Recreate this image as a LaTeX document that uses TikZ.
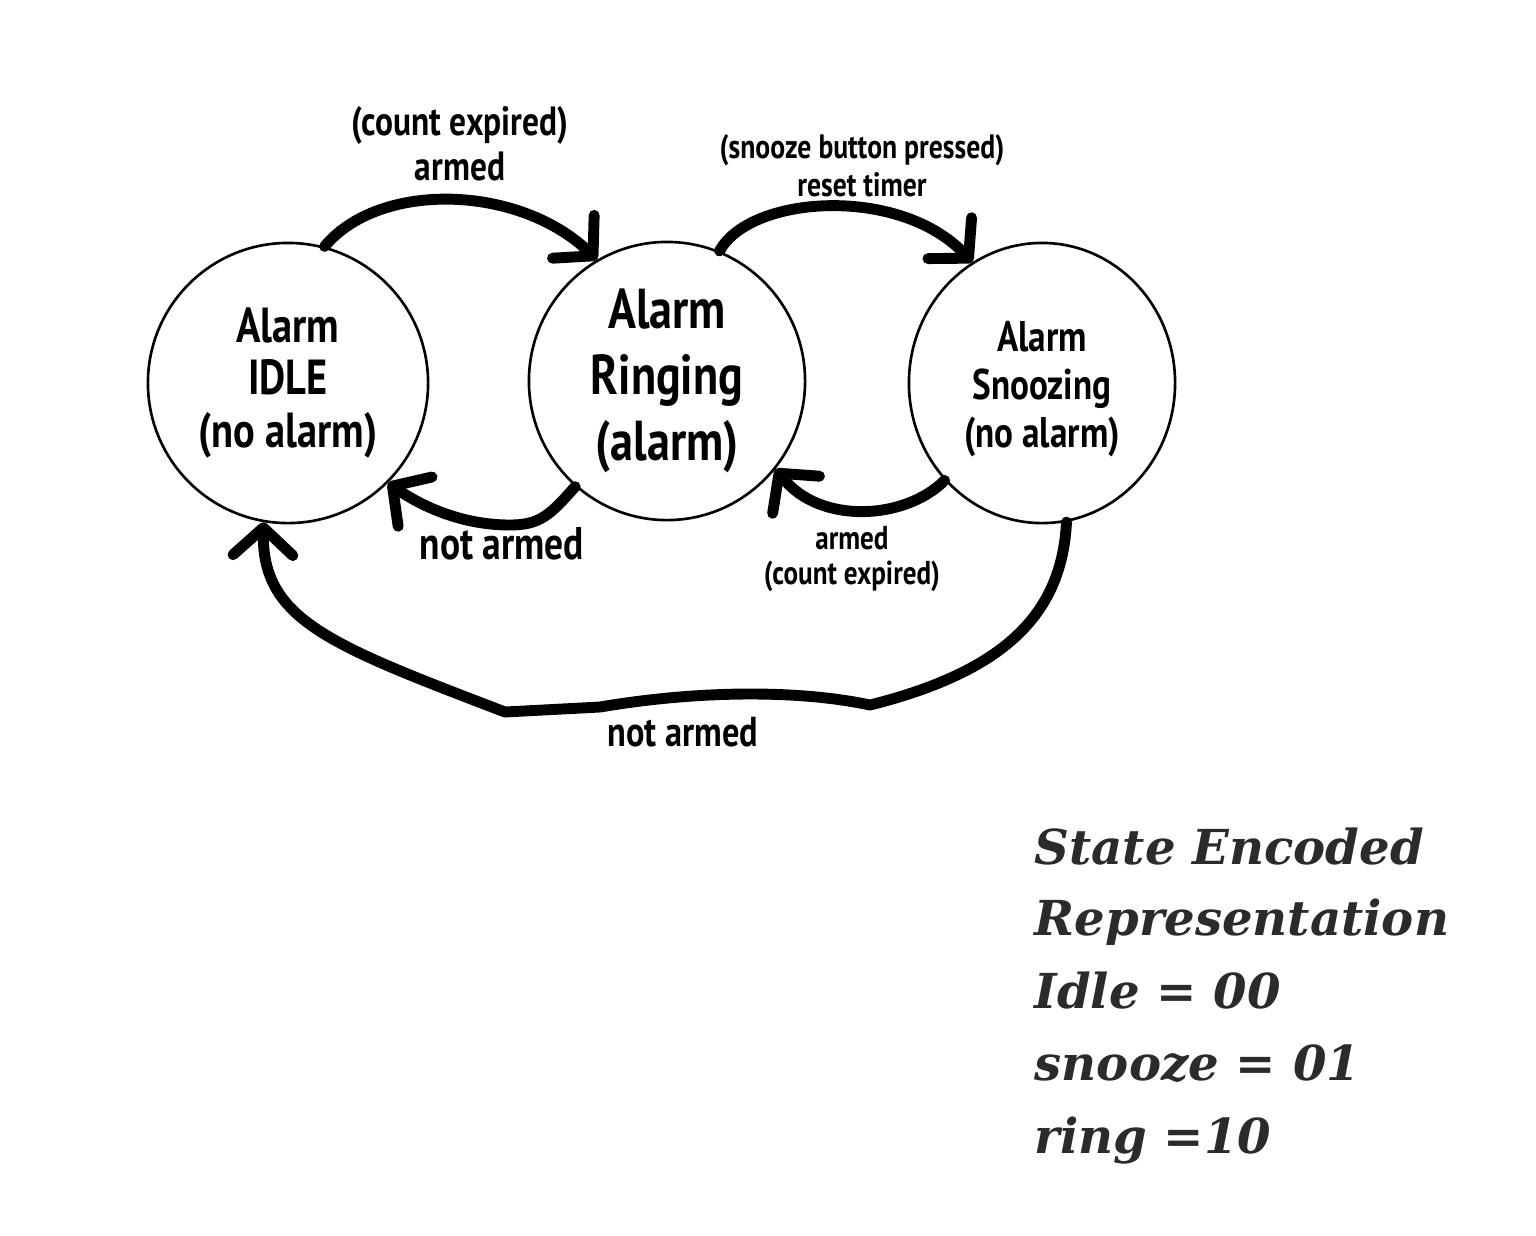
\documentclass[tikz,border=0pt]{standalone}
\usepackage{fontspec}
\setmainfont{PT Sans}
\newfontfamily\labfont[FakeStretch=0.82]{PT Sans}
\newfontfamily\encfont{DejaVu Serif}
\usetikzlibrary{arrows.meta,shapes.geometric}
\definecolor{enc}{HTML}{2B2B2B}
\begin{document}
\begin{tikzpicture}[x=0.01cm,y=-0.01cm,
 state/.style={draw,ellipse,line width=0.75pt,inner sep=0pt,align=center},
 trans/.style={line width=3.1pt,line cap=round,line join=round,-{Straight Barb[length=7.8pt,width=17pt,round]}},
 lab/.style={font=\labfont\bfseries\fontsize{#1}{#1}\selectfont,inner sep=0pt,anchor=base},
 enc/.style={font=\encfont\bfseries\itshape\fontsize{13.7}{13.7}\selectfont,text=enc,anchor=base west,inner sep=0pt}]
\useasboundingbox (0,0) rectangle (1536,1235);
\node[state,minimum width=2.8cm,minimum height=2.8cm,font=\labfont\bfseries\fontsize{14}{15}\selectfont] (idle) at (288,383) {Alarm\\IDLE\\(no alarm)};
\node[state,minimum width=2.76cm,minimum height=2.78cm,font=\labfont\bfseries\fontsize{16}{18.8}\selectfont] (ring) at (667,381) {Alarm\\Ringing\\(alarm)};
\node[state,minimum width=2.66cm,minimum height=2.8cm,font=\labfont\bfseries\fontsize{12.2}{13.7}\selectfont] (snooze) at (1042,383) {\\[-1.7pt]Alarm\\Snoozing\\(no alarm)};
% transitions
\draw[trans] (idle.75) .. controls (380,180) and (520,185) .. (ring.120);
\draw[trans] (ring.68) .. controls (750,195) and (900,185) .. (snooze.120);
\draw[trans] (ring.229) .. controls (550,515) and (540,525) .. (510,525) .. controls (460,525) and (420,505) .. (idle.315);
\draw[trans] (snooze.225) .. controls (905,520) and (820,525) .. (ring.321);
\draw[trans] (snooze.280) .. controls (1062,610) and (1010,670) .. (870,705) .. controls (800,690) and (700,690) .. (600,707) -- (505,712) .. controls (330,645) and (262,620) .. (idle.260);
% labels
\node[lab=11.6] (l1a) at (460,135) {(count expired)};
\node[lab=11.6] (l1b) at (460,180) {armed};
\node[lab=9.6] (l2a) at (862,158) {(snooze button pressed)};
\node[lab=9.6] (l2b) at (862,196) {reset timer};
\node[lab=13] (l3) at (502,559) {not armed};
\node[lab=9.4] (l4a) at (852,549) {armed};
\node[lab=9.4] (l4b) at (852,584) {(count expired)};
\node[lab=11.9] (l5) at (683,746) {not armed};
% encoding
\node[enc] (e1) at (1034,864) {State Encoded};
\node[enc] (e2) at (1034,935) {Representation};
\node[enc] (e3) at (1034,1008) {Idle = 00};
\node[enc] (e4) at (1034,1080) {snooze = 01};
\node[enc] (e5) at (1034,1153) {ring =10};
\end{tikzpicture}
\end{document}
